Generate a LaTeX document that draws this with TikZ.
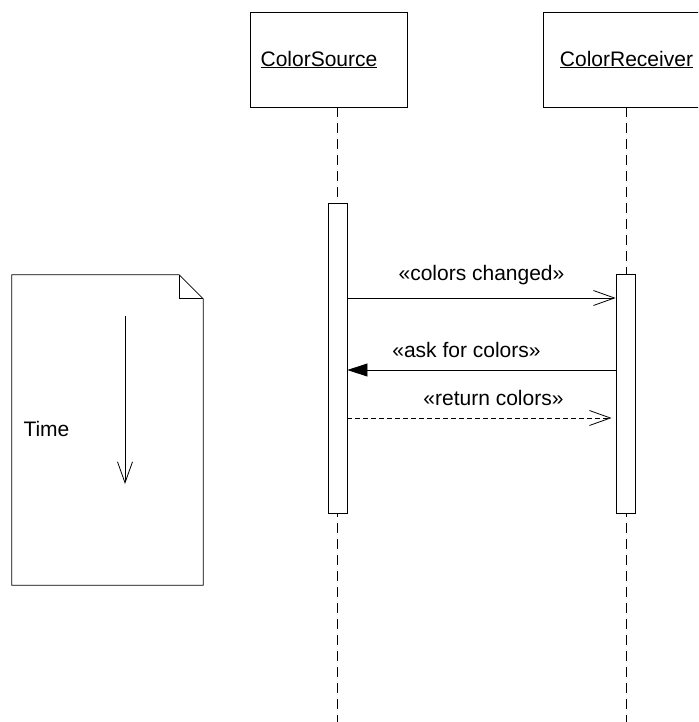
\documentclass[tikz,border=0pt]{standalone}
\usepackage{fontspec}
\setmainfont{Liberation Sans}
\usetikzlibrary{arrows.meta, positioning}

\begin{document}
\begin{tikzpicture}[
    x=1pt, y=-1pt,
    every node/.style={font=\fontsize{21}{25}\selectfont},
    objbox/.style={rectangle, draw, fill=white, line width=0.8pt, minimum width=157pt, minimum height=95pt, inner sep=0pt},
    actbar/.style={rectangle, draw, fill=white, line width=0.8pt, minimum width=19pt, inner sep=0pt},
    lifeline/.style={line width=0.8pt, dash pattern=on 10pt off 6pt},
    msg/.style={line width=0.8pt, -{Straight Barb[length=21pt, width=15pt]}},
    call/.style={line width=0.8pt, -{Triangle[length=20pt, width=13pt]}},
    reply/.style={msg, dash pattern=on 5pt off 3pt},
    msglabel/.style={above=9pt}
]
    \clip (0,0) rectangle (698,722);

    % objects and their lifelines
    \node (src) [objbox] at (329,59.5) {\underline{ColorSource}\hspace*{20pt}};
    \node (rcv) [objbox, minimum width=167pt] at (626.5,59.5) {\underline{ColorReceiver}};
    \coordinate (srcend) at (337,722);
    \coordinate (rcvend) at (626,722);
    \draw [lifeline] (src.south -| srcend) -- (srcend);
    \draw [lifeline] (rcv.south -| rcvend) -- (rcvend);

    % activations
    \node (srcbar) [actbar, minimum height=310pt] at (337.5,358) {};
    \node (rcvbar) [actbar, minimum height=239pt] at (625.5,393.5) {};

    % messages
    \coordinate (m1) at (0,298);
    \coordinate (m2) at (0,370);
    \coordinate (m3) at (0,418);
    \draw [msg] (srcbar.east |- m1) -- node[msglabel] {«colors changed»} (rcvbar.west |- m1);
    \draw [call] (rcvbar.west |- m2) -- node[msglabel, xshift=-15pt] {«ask for colors»} (srcbar.east |- m2);
    \draw [reply, shorten >=4pt] (srcbar.east |- m3) -- node[msglabel, xshift=12pt] {«return colors»} (rcvbar.west |- m3);

    % time note
    \node (note) [minimum width=191pt, minimum height=310pt, inner sep=0pt] at (107.5,430) {};
    \draw [line width=0.8pt] (note.north west) -- ([xshift=-24pt]note.north east) -- ([yshift=-24pt]note.north east) -- (note.south east) -- (note.south west) -- cycle;
    \draw [line width=0.8pt] ([xshift=-24pt]note.north east) |- ([yshift=-24pt]note.north east);
    \node (time) [anchor=west] at (20,429) {Time};
    \coordinate (tstart) at (125,316);
    \coordinate (tend) at (125,484);
    \draw [msg] (tstart) -- (tend);
\end{tikzpicture}
\end{document}
